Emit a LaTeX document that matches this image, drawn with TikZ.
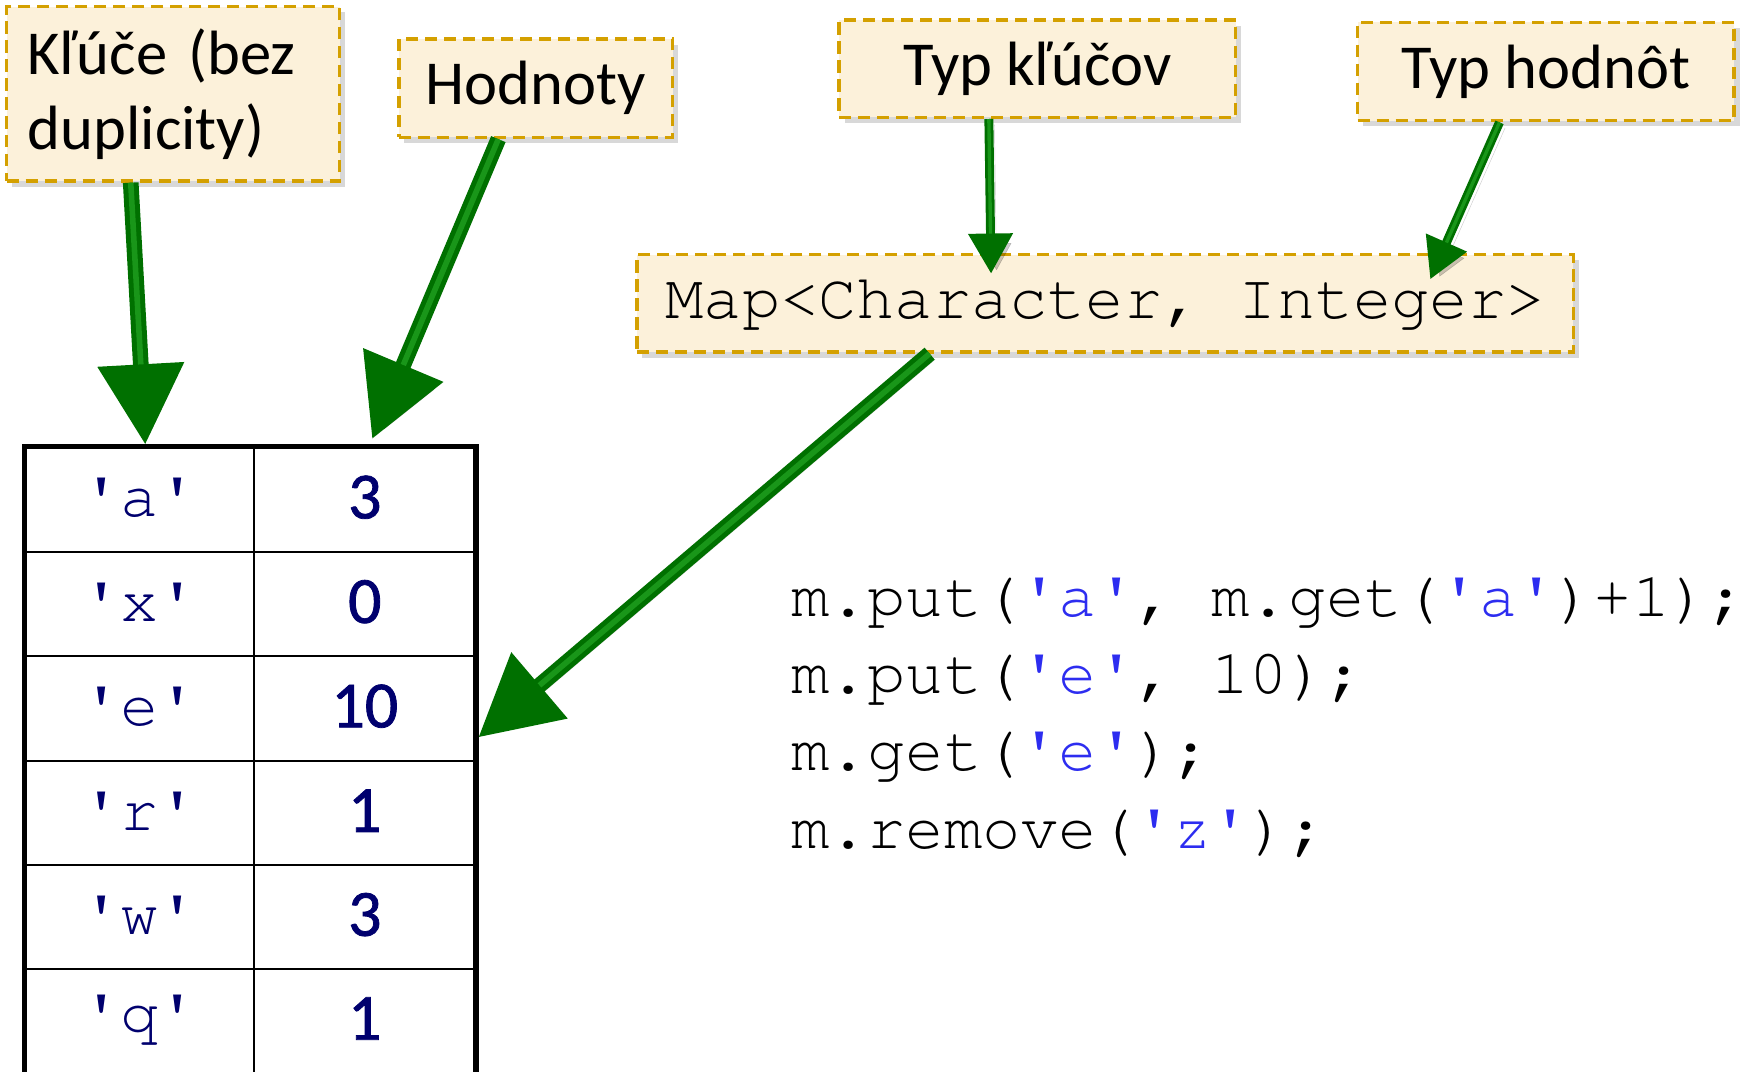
\documentclass[tikz,border=0pt]{standalone}
\usepackage[T1,TU]{fontenc}
\usepackage{fontspec}
\setmainfont{Carlito}
\newfontfamily\valfont{Carlito}[FakeBold=1.2]
\newcommand\courfont{\fontencoding{T1}\fontfamily{pcr}\selectfont}
\newcommand\qq[1]{\textquotesingle#1\textquotesingle}
\usetikzlibrary{arrows.meta,shadows}
\definecolor{boxfill}{RGB}{252,241,218}
\definecolor{boxline}{RGB}{212,160,0}
\definecolor{agreen}{RGB}{0,112,0}
\definecolor{alight}{RGB}{25,150,25}
\definecolor{navy}{RGB}{0,0,110}
\definecolor{codeblue}{RGB}{45,45,240}
\begin{document}
\begin{tikzpicture}[x=1pt,y=-1pt,
  tag/.style={draw=boxline, fill=boxfill, line width=3pt, dash pattern=on 11pt off 6pt,
    drop shadow={shadow xshift=5pt,shadow yshift=-5pt,opacity=0.3},
    font=\fontsize{56}{67}\selectfont, inner sep=0pt},
  monotext/.style={font=\courfont\fontsize{57}{68}\selectfont},
  keyc/.style={monotext, text=navy, inner sep=0pt},
  valc/.style={font=\valfont\fontsize{59}{68}\selectfont, text=navy, inner sep=0pt},
  code/.style={monotext, inner sep=0pt, anchor=base west},
  shadowed/.style={preaction={draw=black, opacity=0.2, transform canvas={xshift=5pt,yshift=-5pt}}},
  bigarrow/.style={draw=agreen, line width=14pt, shadowed,
    -{Triangle[width=74pt,length=72pt]},
    postaction={draw=alight, line width=5pt, arrows=-, shorten >=72pt}},
  smallarrow/.style={draw=agreen, line width=8pt, shadowed,
    -{Triangle[width=38pt,length=36pt]},
    postaction={draw=alight, line width=3pt, arrows=-, shorten >=36pt}}]
\useasboundingbox (0,0) rectangle (1568,959);
\fill[white] (0,0) rectangle (1568,959);

% label boxes
\node[tag, minimum width=298pt, minimum height=156pt, text width=260pt, align=left]
  (kluce) at (155,84) {Kľúče (bez\\duplicity)};
\node[tag, minimum width=245pt, minimum height=88pt] (hodnoty) at (479.5,79) {Hodnoty};
\node[tag, minimum width=355pt, minimum height=87pt] (typk) at (928.5,61.5) {Typ kľúčov};
\node[tag, minimum width=337pt, minimum height=88pt] (typh) at (1383.5,64) {Typ hodnôt};
\node[tag, minimum width=838pt, minimum height=87pt, monotext]
  (map) at (989,271.5) {Map<Character, Integer>};

% table
\draw[line width=2pt] (227,400) -- (227,975);
\foreach \yy in {494,587,681,774,867} \draw[line width=2pt] (22,\yy) -- (426,\yy);
\draw[line width=4.5pt] (22,975) -- (22,400) -- (426,400) -- (426,975);

\node[keyc] (k1) at (125,447) {\qq{a}};
\node[keyc] (k2) at (125,540.5) {\qq{x}};
\node[keyc] (k3) at (125,634) {\qq{e}};
\node[keyc] (k4) at (125,727.5) {\qq{r}};
\node[keyc] (k5) at (125,820.5) {\qq{w}};
\node[keyc] (k6) at (125,913.5) {\qq{q}};
\node[valc] (v1) at (326.5,445) {3};
\node[valc] (v2) at (326.5,538.5) {0};
\node[valc] (v3) at (326.5,632) {10};
\node[valc] (v4) at (326.5,725.5) {1};
\node[valc] (v5) at (326.5,818.5) {3};
\node[valc] (v6) at (326.5,911.5) {1};

% code
\node[code] (c1) at (708,552) {m.put(\textcolor{codeblue}{\qq{a}}, m.get(\textcolor{codeblue}{\qq{a}})+1);};
\node[code] (c2) at (708,621) {m.put(\textcolor{codeblue}{\qq{e}}, 10);};
\node[code] (c3) at (708,690) {m.get(\textcolor{codeblue}{\qq{e}});};
\node[code] (c4) at (708,759) {m.remove(\textcolor{codeblue}{\qq{z}});};

% arrow targets
\coordinate (t1) at (130,398);
\coordinate (t2) at (333,393);
\coordinate (t3) at (887,245);
\coordinate (t4) at (1280,250);
\coordinate (t5) at (428,660);

\draw[bigarrow] ([xshift=-38pt]kluce.south) -- (t1);
\draw[bigarrow] ([xshift=-33.5pt]hodnoty.south) -- (t2);
\draw[smallarrow] ([xshift=-43.5pt]typk.south) -- (t3);
\draw[smallarrow] ([xshift=-41.5pt]typh.south) -- (t4);
\draw[bigarrow] ([xshift=-157pt]map.south) -- (t5);
\end{tikzpicture}
\end{document}
